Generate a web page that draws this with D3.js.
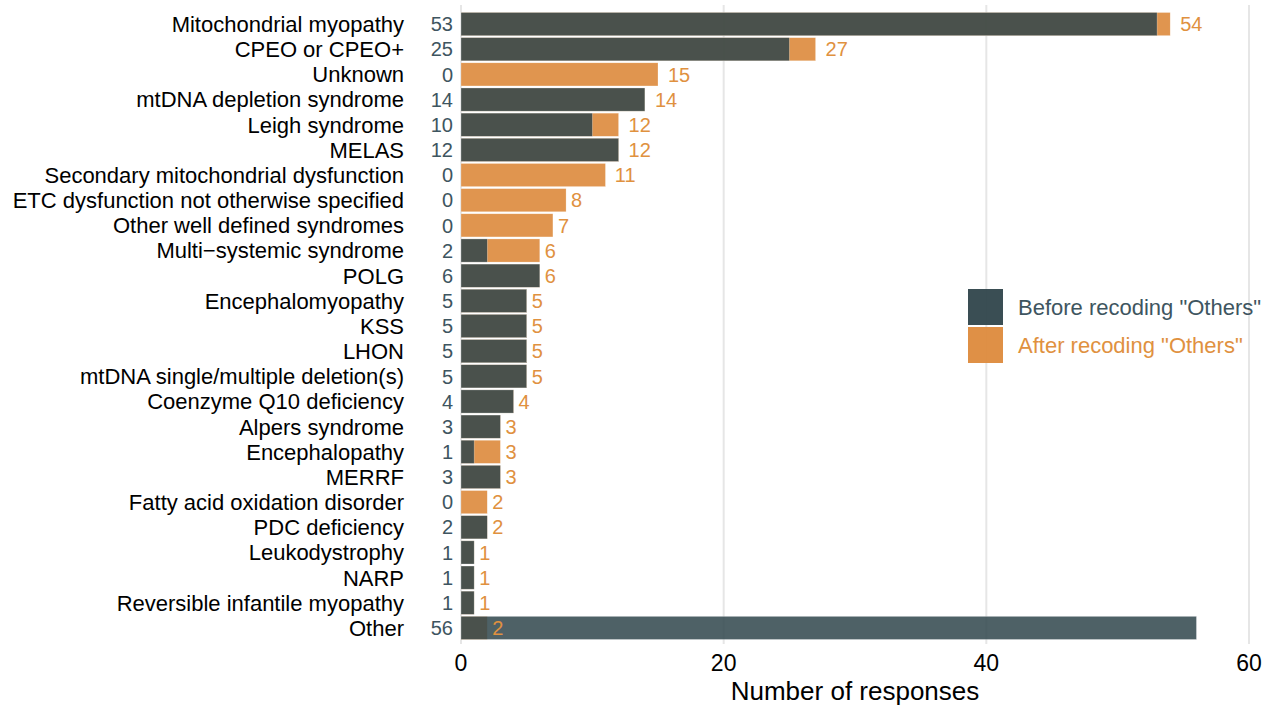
<!DOCTYPE html>
<html>
<head>
<meta charset="utf-8">
<script src="https://cdn.jsdelivr.net/npm/d3@7"></script>
<style>
  body { margin: 0; background: #fff; }
  text { font-family: "Liberation Sans", Arial, sans-serif; }
</style>
</head>
<body>
<div id="chart"></div>
<script>
const categories = [
  "Mitochondrial myopathy", "CPEO or CPEO+", "Unknown", "mtDNA depletion syndrome",
  "Leigh syndrome", "MELAS", "Secondary mitochondrial dysfunction",
  "ETC dysfunction not otherwise specified", "Other well defined syndromes",
  "Multi\u2212systemic syndrome", "POLG", "Encephalomyopathy", "KSS", "LHON",
  "mtDNA single/multiple deletion(s)", "Coenzyme Q10 deficiency", "Alpers syndrome",
  "Encephalopathy", "MERRF", "Fatty acid oxidation disorder", "PDC deficiency",
  "Leukodystrophy", "NARP", "Reversible infantile myopathy", "Other"
];
const before = [53, 25, 0, 14, 10, 12, 0, 0, 0, 2, 6, 5, 5, 5, 5, 4, 3, 1, 3, 0, 2, 1, 1, 1, 56];
const after  = [54, 27, 15, 14, 12, 12, 11, 8, 7, 6, 6, 5, 5, 5, 5, 4, 3, 3, 3, 2, 2, 1, 1, 1, 2];
const xTicks = [0, 20, 40, 60];
const legendLabels = ['Before recoding "Others"', 'After recoding "Others"'];

const width = 1265, height = 708;
const darkCol = "#2f454b", orangeCol = "#dd8a3c";
const darkText = "#3e5560", orangeText = "#e0913f";

const rows = categories.map((c, i) => ({ cat: c, before: before[i], after: after[i] }));

const svg = d3.select("#chart").append("svg")
    .attr("width", width)
    .attr("height", height);

const x = d3.scaleLinear().domain([0, 60]).range([461, 1249]);
const y = d3.scaleBand().domain(categories).range([11.5, 640.5]).paddingInner(0.08).paddingOuter(0.04);

// grid lines
svg.append("g").selectAll("line")
    .data(xTicks)
    .join("line")
    .attr("x1", d => x(d)).attr("x2", d => x(d))
    .attr("y1", 5).attr("y2", 644)
    .attr("stroke", "#e6e6e6")
    .attr("stroke-width", 2);

// after bars (behind)
svg.append("g").selectAll("rect")
    .data(rows)
    .join("rect")
    .attr("x", x(0))
    .attr("y", d => y(d.cat))
    .attr("width", d => x(d.after) - x(0))
    .attr("height", y.bandwidth())
    .attr("fill", orangeCol)
    .attr("fill-opacity", 0.9)
    .attr("stroke", "#fff")
    .attr("stroke-opacity", 0.5)
    .attr("stroke-width", 0.5);

// before bars (on top)
svg.append("g").selectAll("rect")
    .data(rows)
    .join("rect")
    .attr("x", x(0))
    .attr("y", d => y(d.cat))
    .attr("width", d => x(d.before) - x(0))
    .attr("height", y.bandwidth())
    .attr("fill", darkCol)
    .attr("fill-opacity", 0.85)
    .attr("stroke", "#fff")
    .attr("stroke-opacity", 0.5)
    .attr("stroke-width", 0.5);

// category labels
svg.append("g").selectAll("text")
    .data(rows)
    .join("text")
    .attr("x", 404)
    .attr("y", d => y(d.cat) + y.bandwidth() / 2)
    .attr("dy", "0.36em")
    .attr("text-anchor", "end")
    .attr("font-size", 22)
    .attr("fill", "#000")
    .text(d => d.cat);

// before value labels
svg.append("g").selectAll("text")
    .data(rows)
    .join("text")
    .attr("x", x(0) - 8)
    .attr("y", d => y(d.cat) + y.bandwidth() / 2)
    .attr("dy", "0.36em")
    .attr("text-anchor", "end")
    .attr("font-size", 20)
    .attr("fill", darkText)
    .text(d => d.before);

// after value labels
svg.append("g").selectAll("text")
    .data(rows)
    .join("text")
    .attr("y", d => y(d.cat) + y.bandwidth() / 2)
    .attr("dy", "0.36em")
    .attr("font-size", 20)
    .attr("fill", orangeText)
    .text(d => d.after)
    .attr("x", function(d) { return x(d.after) + this.getComputedTextLength() * 0.45; });

// x axis tick labels
svg.append("g").selectAll("text")
    .data(xTicks)
    .join("text")
    .attr("x", d => x(d))
    .attr("y", 671)
    .attr("text-anchor", "middle")
    .attr("font-size", 23)
    .attr("fill", "#000")
    .text(d => d);

svg.append("text")
    .attr("x", (x(0) + x(60)) / 2)
    .attr("y", 700)
    .attr("text-anchor", "middle")
    .attr("font-size", 26)
    .attr("fill", "#000")
    .text("Number of responses");

// legend
const legend = svg.append("g").attr("transform", "translate(968,289)");
const legendCols = [darkCol, orangeCol];
const legendText = [darkText, orangeText];
legendLabels.forEach((lab, i) => {
    legend.append("rect")
        .attr("x", 0).attr("y", i * 38)
        .attr("width", 35).attr("height", 36)
        .attr("fill", legendCols[i])
        .attr("fill-opacity", 0.95);
    legend.append("text")
        .attr("x", 50).attr("y", i * 38 + 18)
        .attr("dy", "0.36em")
        .attr("font-size", 22)
        .attr("fill", legendText[i])
        .text(lab);
});
</script>
</body>
</html>
